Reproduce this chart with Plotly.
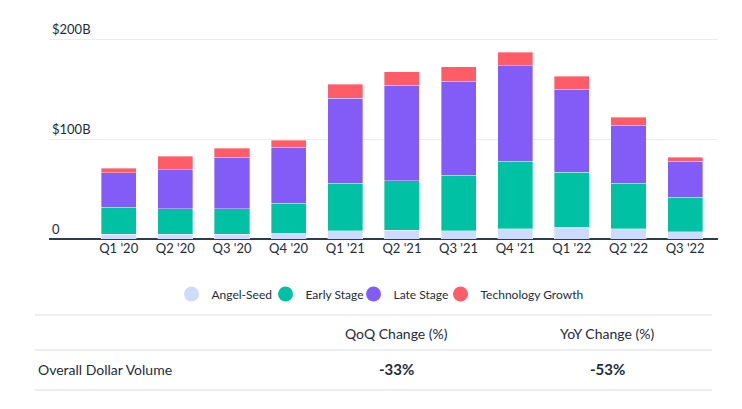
import plotly.graph_objects as go

# values in $B
quarters = ["Q1 '20", "Q2 '20", "Q3 '20", "Q4 '20", "Q1 '21", "Q2 '21",
            "Q3 '21", "Q4 '21", "Q1 '22", "Q2 '22", "Q3 '22"]
angel_seed = [5.0, 5.0, 5.0, 6.0, 8.3, 9.0, 8.3, 10.3, 12.0, 10.3, 7.3]
early_stage = [26.7, 25.3, 25.3, 29.7, 47.4, 49.3, 55.7, 67.4, 54.7, 45.4, 34.4]
late_stage = [34.6, 39.0, 51.4, 56.0, 85.3, 95.7, 94.0, 95.6, 83.3, 58.0, 36.0]
tech_growth = [4.4, 13.7, 9.0, 7.0, 14.0, 13.3, 14.3, 13.4, 13.0, 8.3, 4.3]

y_tickvals = [0, 100, 200]
y_ticktext = ['0', '$100B', '$200B']

table_row_label = 'Overall Dollar Volume'
table_headers = ['QoQ Change (%)', 'YoY Change (%)']
table_values = ['-33%', '-53%']

# name, values, colour, legend entry width
series = [
    ('Angel-Seed', angel_seed, '#cddcfe', 49),
    ('Early Stage', early_stage, '#00c1a3', 43),
    ('Late Stage', late_stage, '#835cf8', 42),
    ('Technology Growth', tech_growth, '#fe5c66', None),
]

TEXT = '#1d2b3a'
FONT = 'Lato'
W, H = 742, 409
L, R, T, B = 49, 24, 19, 170
Y_MAX = 220


def px_x(x):
    return (x - L) / (W - L - R)


def px_y(y):
    return (H - B - y) / (H - T - B)


fig = go.Figure()
for name, vals, color, lw in series:
    fig.add_trace(go.Bar(
        x=quarters, y=vals, name=name, showlegend=False,
        marker=dict(color=color, line=dict(color='rgba(255,255,255,0.6)', width=0.6)),
    ))
    # circle swatch for the legend
    fig.add_trace(go.Scatter(
        x=[None], y=[None], mode='markers', name=name, legendwidth=lw,
        marker=dict(color=color, size=15, symbol='circle'),
    ))

shapes = []
for y in (315, 350, 390):
    shapes.append(dict(
        type='line', xref='paper', yref='paper',
        x0=px_x(35), x1=px_x(712), y0=px_y(y), y1=px_y(y),
        line=dict(color='#eeeeee', width=2),
    ))

annotations = [dict(
    text=table_row_label, xref='paper', yref='paper', x=px_x(36), y=px_y(369),
    xanchor='left', yanchor='middle', showarrow=False,
    font=dict(family=FONT, size=14, color=TEXT),
)]
for cx, head, val in zip((396, 607), table_headers, table_values):
    annotations.append(dict(
        text=head, xref='paper', yref='paper', x=px_x(cx), y=px_y(333),
        xanchor='center', yanchor='middle', showarrow=False,
        font=dict(family=FONT, size=14, color=TEXT),
    ))
    annotations.append(dict(
        text='<b>' + val + '</b>', xref='paper', yref='paper', x=px_x(cx), y=px_y(369),
        xanchor='center', yanchor='middle', showarrow=False,
        font=dict(family=FONT, size=15, color=TEXT),
    ))

fig.update_layout(
    width=W, height=H,
    margin=dict(l=L, r=R, t=T, b=B, pad=0),
    barmode='stack', bargap=0.38,
    plot_bgcolor='white', paper_bgcolor='white',
    font=dict(family=FONT, size=13, color=TEXT),
    xaxis=dict(
        range=[-1.23, 10.58], showgrid=False, showline=False, ticks='',
        tickfont=dict(size=13, color=TEXT), fixedrange=True, automargin=False,
    ),
    yaxis=dict(
        range=[0, Y_MAX], tickvals=y_tickvals, ticktext=y_ticktext,
        ticklabelposition='inside top', ticks='', automargin=False,
        showgrid=True, gridcolor='#ececec', gridwidth=1,
        zeroline=True, zerolinecolor='#2d3b4a', zerolinewidth=2,
        tickfont=dict(size=13, color=TEXT),
    ),
    legend=dict(
        orientation='h', x=px_x(380), xanchor='center', y=px_y(294), yanchor='middle',
        font=dict(family=FONT, size=12, color=TEXT), itemwidth=30,
        traceorder='normal',
    ),
    shapes=shapes,
    annotations=annotations,
)

fig.write_html(
    "out.html",
    config={'displayModeBar': False},
    post_script="document.body.style.margin='0px';",
)
